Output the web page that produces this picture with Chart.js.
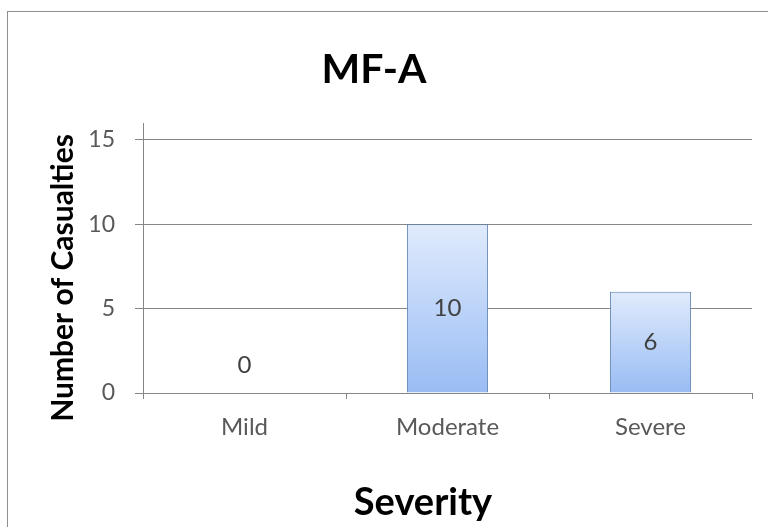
<!DOCTYPE html>
<html>
<head>
<meta charset="utf-8">
<script src="https://cdn.jsdelivr.net/npm/chart.js@4"></script>
<style>
  body { margin: 0; background: #fff; overflow: hidden; }
  #frame { position: absolute; left: 7px; top: 11px; width: 800px; height: 560px; border: 1px solid #8f8f8f; }
  #wrap { position: absolute; left: 0; top: 0; width: 768px; height: 527px; }
</style>
</head>
<body>
<div id="frame"></div>
<div id="wrap"><canvas id="chart"></canvas></div>
<script>
// chart data
const categories = ["Mild", "Moderate", "Severe"];
const casualties = [0, 10, 6];
const yTicks = [0, 5, 10, 15];

const chartTitle = "MF-A";
const xTitle = "Severity";
const yTitle = "Number of Casualties";

const FONT = "Lato, 'Open Sans', sans-serif";

// titles drawn by hand so they sit where Excel put them
const titles = {
  id: "titles",
  afterDraw(chart) {
    const ctx = chart.ctx;
    ctx.save();
    ctx.fillStyle = "#000";
    ctx.textAlign = "center";
    ctx.textBaseline = "alphabetic";

    ctx.font = "bold 41px " + FONT;
    ctx.fillText(chartTitle, 374, 83);

    ctx.font = "bold 38px " + FONT;
    ctx.fillText(xTitle, 423, 515);

    ctx.translate(73, 278);
    ctx.rotate(-Math.PI / 2);
    ctx.font = "bold 30px " + FONT;
    ctx.fillText(yTitle, 0, 0);
    ctx.restore();
  },
};

// value labels, drawn in the middle of each bar (above the axis when 0)
const valueLabels = {
  id: "valueLabels",
  afterDatasetsDraw(chart) {
    const ctx = chart.ctx;
    const meta = chart.getDatasetMeta(0);
    ctx.save();
    ctx.font = "24px " + FONT;
    ctx.fillStyle = "#404040";
    ctx.textAlign = "center";
    ctx.textBaseline = "middle";
    meta.data.forEach((bar, i) => {
      const v = casualties[i];
      let y = (bar.y + bar.base) / 2;
      if (v === 0) y = bar.base - 28;
      ctx.fillText(String(v), bar.x, y);
    });
    ctx.restore();
  },
};

new Chart(document.getElementById("chart"), {
  type: "bar",
  data: {
    labels: categories,
    datasets: [
      {
        data: casualties,
        backgroundColor: function (context) {
          const chart = context.chart;
          const y = chart.scales.y;
          if (!y || !chart.chartArea) return "#b8d0f7";
          const top = y.getPixelForValue(context.raw);
          const base = y.getPixelForValue(0);
          if (top === base) return "#b8d0f7";
          const g = chart.ctx.createLinearGradient(0, top, 0, base);
          g.addColorStop(0, "#e0ebfc");
          g.addColorStop(1, "#99bcf4");
          return g;
        },
        borderColor: "#5d80ad",
        borderWidth: 1,
        barPercentage: 0.4,
        categoryPercentage: 1,
      },
    ],
  },
  options: {
    responsive: true,
    maintainAspectRatio: false,
    animation: false,
    layout: { padding: { left: 0, right: 16, top: 123, bottom: 0 } },
    plugins: {
      legend: { display: false },
      tooltip: { enabled: false },
      title: { display: false },
    },
    scales: {
      x: {
        grid: { drawOnChartArea: false, drawTicks: true, tickLength: 6, color: "#868686", offset: true },
        border: { color: "#868686" },
        ticks: { color: "#595959", font: { family: FONT, size: 24 }, padding: 14 },
        afterFit: function (scale) {
          scale.height = 134;
        },
      },
      y: {
        min: 0,
        max: 16,
        afterBuildTicks: function (scale) {
          scale.ticks = yTicks.map((v) => ({ value: v }));
        },
        grid: { color: "#868686", tickLength: 8 },
        border: { color: "#868686" },
        ticks: { color: "#595959", font: { family: FONT, size: 23 }, padding: 20 },
        afterFit: function (scale) {
          scale.width = 143;
        },
      },
    },
  },
  plugins: [valueLabels, titles],
});
</script>
</body>
</html>
